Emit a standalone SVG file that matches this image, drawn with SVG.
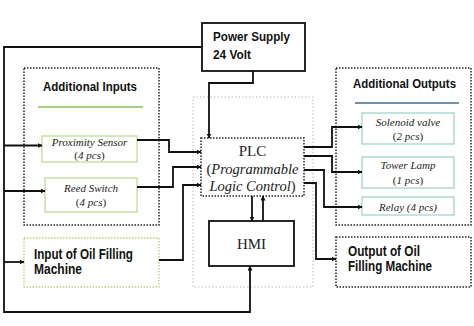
<svg xmlns="http://www.w3.org/2000/svg" width="474" height="326" viewBox="0 0 474 326">
<defs>
<marker id="ah" viewBox="0 0 10 10" refX="9" refY="5" markerWidth="5" markerHeight="5" orient="auto" markerUnits="userSpaceOnUse">
<path d="M0,0 L10,5 L0,10 z" fill="#111"/>
</marker>
</defs>
<style>
.bold{font-family:"Liberation Sans",Arial,sans-serif;font-weight:bold;fill:#111}
.ser{font-family:"Liberation Serif","Times New Roman",serif;fill:#222}
.it{font-style:italic}
.wire{fill:none;stroke:#111;stroke-width:1.8}
.arr{marker-end:url(#ah)}
</style>
<rect width="474" height="326" fill="#fff"/>

<g id="plc-group-frame">
<rect x="193" y="97" width="120" height="190" fill="none" stroke="#bbb" stroke-width="1" stroke-dasharray="1.5,2"/>
</g>

<g id="power">
<rect x="202" y="23" width="103" height="48" fill="#fff" stroke="#111" stroke-width="1.8"/>
<text class="bold" x="213" y="41" font-size="13.5" textLength="77" lengthAdjust="spacingAndGlyphs">Power Supply</text>
<text class="bold" x="213" y="59" font-size="13.5" textLength="38" lengthAdjust="spacingAndGlyphs">24 Volt</text>
</g>

<g id="additional-inputs">
<rect x="24" y="68" width="135" height="157" fill="none" stroke="#222" stroke-width="1.5" stroke-dasharray="1.5,1.5"/>
<text class="bold" x="43" y="91" font-size="13.5" textLength="94" lengthAdjust="spacingAndGlyphs">Additional Inputs</text>
<line x1="38" y1="107" x2="143" y2="107" stroke="#8cc152" stroke-width="1.6"/>
</g>

<g id="proximity">
<rect x="42" y="136" width="95" height="26" fill="#fff" stroke="#b9d98f" stroke-width="1.2"/>
<text class="ser it" x="89.5" y="146" font-size="11" text-anchor="middle">Proximity Sensor</text>
<text class="ser" x="89.5" y="159" font-size="11" text-anchor="middle">(<tspan font-style="italic">4 pcs</tspan>)</text>
</g>

<g id="reed">
<rect x="45" y="178" width="92" height="34" fill="#fff" stroke="#b9d98f" stroke-width="1.2"/>
<text class="ser it" x="91" y="192" font-size="11" text-anchor="middle">Reed Switch</text>
<text class="ser" x="91" y="206" font-size="11" text-anchor="middle">(<tspan font-style="italic">4 pcs</tspan>)</text>
</g>

<g id="input-oil">
<rect x="24" y="238" width="135" height="49" fill="none" stroke="#b8d47a" stroke-width="1.4" stroke-dasharray="1.5,1.5"/>
<text class="bold" x="34" y="259" font-size="14" textLength="99" lengthAdjust="spacingAndGlyphs">Input of Oil Filling</text>
<text class="bold" x="34" y="274" font-size="14" textLength="48" lengthAdjust="spacingAndGlyphs">Machine</text>
</g>

<g id="plc">
<rect x="201" y="138" width="103" height="58" fill="#fff" stroke="#222" stroke-width="1.5" stroke-dasharray="1.5,1.5"/>
<text class="ser" x="252.5" y="156" font-size="15" text-anchor="middle">PLC</text>
<text class="ser" x="252.5" y="174" font-size="14.5" text-anchor="middle">(<tspan font-style="italic">Programmable</tspan></text>
<text class="ser" x="252.5" y="191" font-size="14.5" text-anchor="middle"><tspan font-style="italic">Logic Control</tspan>)</text>
</g>

<g id="hmi">
<rect x="209" y="221" width="85" height="45" fill="#fff" stroke="#111" stroke-width="1.8"/>
<text class="ser" x="251.5" y="249" font-size="15" text-anchor="middle">HMI</text>
</g>

<g id="additional-outputs">
<rect x="336" y="68" width="135" height="157" fill="none" stroke="#222" stroke-width="1.5" stroke-dasharray="1.5,1.5"/>
<text class="bold" x="353" y="88" font-size="13.5" textLength="103" lengthAdjust="spacingAndGlyphs">Additional Outputs</text>
<line x1="355" y1="103" x2="459" y2="103" stroke="#3e6e9e" stroke-width="1.6"/>
</g>

<g id="solenoid">
<rect x="362" y="113" width="92" height="31" fill="#fff" stroke="#9fcfcc" stroke-width="1.2"/>
<text class="ser it" x="408" y="126" font-size="11" text-anchor="middle">Solenoid valve</text>
<text class="ser" x="408" y="140" font-size="11" text-anchor="middle">(<tspan font-style="italic">2 pcs</tspan>)</text>
</g>

<g id="tower">
<rect x="362" y="157" width="92" height="31" fill="#fff" stroke="#9fcfcc" stroke-width="1.2"/>
<text class="ser it" x="408" y="169" font-size="11" text-anchor="middle">Tower Lamp</text>
<text class="ser" x="408" y="184" font-size="11" text-anchor="middle">(<tspan font-style="italic">1 pcs</tspan>)</text>
</g>

<g id="relay">
<rect x="362" y="197" width="92" height="18" fill="#fff" stroke="#9fcfcc" stroke-width="1.2"/>
<text class="ser it" x="408" y="211" font-size="11" text-anchor="middle">Relay (4 pcs)</text>
</g>

<g id="output-oil">
<rect x="336" y="237" width="135" height="50" fill="none" stroke="#222" stroke-width="1.5" stroke-dasharray="1.5,1.5"/>
<text class="bold" x="348" y="256" font-size="14" textLength="72" lengthAdjust="spacingAndGlyphs">Output of Oil</text>
<text class="bold" x="348" y="271" font-size="14" textLength="84" lengthAdjust="spacingAndGlyphs">Filling Machine</text>
</g>

<g id="connectors">
<path class="wire arr" d="M202,47 H4 V312 H250 V266"/>
<path class="wire arr" d="M4,145.5 H42"/>
<path class="wire arr" d="M4,191 H45"/>
<path class="wire arr" d="M4,262 H24"/>
<path class="wire arr" d="M253,71 V83 H209 V138"/>
<path class="wire arr" d="M137,140 H169 V152 H201"/>
<path class="wire arr" d="M137,187 H173 V167 H201"/>
<path class="wire arr" d="M159,260 H183 V185 H201"/>
<path class="wire arr" d="M252,196 V221"/>
<path class="wire arr" d="M263,221 V196"/>
<path class="wire arr" d="M304,147 H332 V127 H362"/>
<path class="wire arr" d="M304,156 H332 V172 H362"/>
<path class="wire arr" d="M304,170 H324 V207 H362"/>
<path class="wire arr" d="M304,183 H316 V259 H336"/>
</g>
</svg>
